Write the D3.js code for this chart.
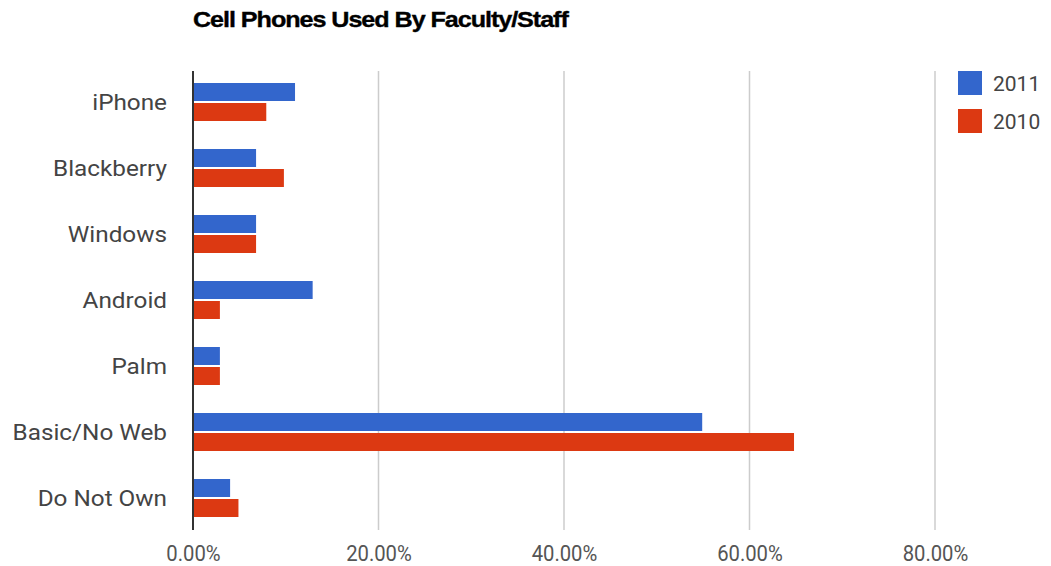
<!DOCTYPE html>
<html><head><meta charset="utf-8">
<script src="https://cdn.jsdelivr.net/npm/d3@7"></script>
<style>body{margin:0;background:#fff;} svg{display:block;}</style>
</head><body>
<svg id="c" width="1051" height="566"></svg>
<script>
const categories = ["iPhone","Blackberry","Windows","Android","Palm","Basic/No Web","Do Not Own"];
const series = ["2011","2010"];
const values2011 = [11.0, 6.8, 6.8, 12.9, 2.9, 54.9, 4.0];
const values2010 = [7.9, 9.8, 6.8, 2.9, 2.9, 64.8, 4.9];
const tickValues = [0, 20, 40, 60, 80];
const colors = ["#3366cc", "#dc3912"];
const title = "Cell Phones Used By Faculty/Staff";

const svg = d3.select("#c");
const x = d3.scaleLinear().domain([0, 80]).range([193, 935]);
const y = d3.scaleBand().domain(categories).range([69, 531]).paddingInner(28/66).paddingOuter(14/66);
const ys = d3.scaleBand().domain(series).range([0, y.bandwidth()]).paddingInner(0.1);

// gridlines
svg.append("g").selectAll("line").data(tickValues.slice(1)).join("line")
  .attr("x1", d => x(d)).attr("x2", d => x(d))
  .attr("y1", 71).attr("y2", 530)
  .attr("stroke", "#cccccc").attr("stroke-width", 1.5);

// bars
const data = [];
categories.forEach((c, i) => {
  data.push({c, s: "2011", v: values2011[i]});
  data.push({c, s: "2010", v: values2010[i]});
});
svg.append("g").selectAll("rect").data(data).join("rect")
  .attr("x", x(0))
  .attr("y", d => y(d.c) + ys(d.s))
  .attr("width", d => x(d.v) - x(0))
  .attr("height", ys.bandwidth())
  .attr("fill", d => colors[series.indexOf(d.s)]);

// baseline
svg.append("line").attr("x1", x(0)).attr("x2", x(0)).attr("y1", 71).attr("y2", 530)
  .attr("stroke", "#333333").attr("stroke-width", 2);

// x axis labels
const xAxis = d3.axisBottom(x).tickValues(tickValues).tickSize(0)
  .tickFormat(d => d3.format(".2f")(d) + "%");
const gx = svg.append("g").call(xAxis);
gx.select(".domain").remove();
gx.selectAll("text").attr("y", 561).attr("dy", 0)
  .attr("font-family", "Roboto, sans-serif").attr("font-size", 22.5).attr("fill", "#555")
  .attr("transform", "scale(0.9,1)");

// y axis labels
const yAxis = d3.axisLeft(y).tickSize(0).tickPadding(0);
const gy = svg.append("g").attr("transform", "translate(167,0)").call(yAxis);
gy.select(".domain").remove();
gy.selectAll("text").attr("font-family", "Roboto, sans-serif").attr("font-size", 22.5)
  .attr("fill", "#444").attr("dy", "0.36em").attr("transform", "scale(1.08,1)");

// title
const t = svg.append("text").attr("x", 0).attr("y", 0).text(title)
  .attr("font-family", "Liberation Sans, Arial, sans-serif").attr("font-weight", "bold")
  .attr("font-size", 21.5).attr("letter-spacing", -0.9)
  .attr("fill", "#000").attr("stroke", "#000").attr("stroke-width", 0.35);
const tw = t.node().getComputedTextLength();
t.attr("transform", `translate(193,27) scale(${375 / tw},1)`);

// legend
const lg = svg.append("g").selectAll("g").data(series).join("g")
  .attr("transform", (d, i) => `translate(958,${71 + i * 38})`);
lg.append("rect").attr("width", 24).attr("height", 24).attr("fill", (d, i) => colors[i]);
lg.append("text").attr("x", 35).attr("y", 12).attr("dy", "0.36em").text(d => d)
  .attr("font-family", "Roboto, sans-serif").attr("font-size", 21).attr("fill", "#444");
</script>
</body></html>
